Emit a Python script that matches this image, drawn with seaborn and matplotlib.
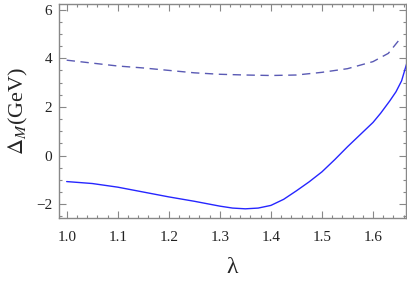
import seaborn as sns
import matplotlib.pyplot as plt
from matplotlib.ticker import MultipleLocator
import pandas as pd

# values
lam_solid = [1.00, 1.05, 1.10, 1.15, 1.20, 1.25, 1.30, 1.325, 1.35, 1.375, 1.40,
             1.425, 1.45, 1.475, 1.50, 1.525, 1.55, 1.575, 1.60, 1.615, 1.633,
             1.645, 1.656, 1.667]
delta_solid = [-1.07, -1.15, -1.30, -1.50, -1.70, -1.88, -2.08, -2.16, -2.19, -2.16, -2.05,
               -1.80, -1.45, -1.08, -0.67, -0.17, 0.36, 0.86, 1.36, 1.74, 2.25,
               2.62, 3.07, 3.85]

lam_dashed = [1.00, 1.05, 1.10, 1.15, 1.20, 1.25, 1.30, 1.35, 1.40, 1.45,
              1.50, 1.55, 1.60, 1.63, 1.65]
delta_dashed = [3.92, 3.80, 3.68, 3.60, 3.50, 3.40, 3.34, 3.31, 3.29, 3.31,
                3.42, 3.57, 3.86, 4.20, 4.72]

solid = pd.DataFrame({'lam': lam_solid, 'delta': delta_solid})
dashed = pd.DataFrame({'lam': lam_dashed, 'delta': delta_dashed})

sns.set_style('ticks')
plt.rcParams['font.family'] = ['Liberation Serif', 'DejaVu Serif']
plt.rcParams['mathtext.fontset'] = 'stix'

fig = plt.figure(figsize=(4.07, 2.81), dpi=100)
ax = fig.add_axes([0.145, 0.224, 0.853, 0.761])

sns.lineplot(data=dashed, x='lam', y='delta', ax=ax, color='#5a5ab4',
             linewidth=1.0, linestyle=(0, (6, 4)))
sns.lineplot(data=solid, x='lam', y='delta', ax=ax, color='#2626ff',
             linewidth=1.0)

ax.set_xlim(0.985, 1.665)
ax.set_ylim(-2.57, 6.22)
ax.xaxis.set_minor_locator(MultipleLocator(0.02))
ax.yaxis.set_minor_locator(MultipleLocator(0.5))
ax.set_xticks([1.0, 1.1, 1.2, 1.3, 1.4, 1.5, 1.6])
ax.set_xticklabels(['1.0', '1.1', '1.2', '1.3', '1.4', '1.5', '1.6'])
ax.set_yticks([-2, 0, 2, 4, 6])
ax.set_yticklabels(['\u22122', '0', '2', '4', '6'])

ax.tick_params(which='both', direction='in', top=True, right=True,
               color='#888888', width=0.8, labelsize=11, labelcolor='#222222')
ax.tick_params(which='major', length=5)
ax.tick_params(which='minor', length=2.5)
ax.tick_params(axis='x', which='major', pad=9)
ax.tick_params(axis='y', which='major', pad=5)
for s in ax.spines.values():
    s.set_color('#888888')
    s.set_linewidth(1.0)

ax.set_xlabel('\u03bb', fontsize=17, labelpad=10)
ax.set_ylabel(r'$\Delta_M$(GeV)', fontsize=16, labelpad=4)

fig.savefig('out.png', dpi=100)
